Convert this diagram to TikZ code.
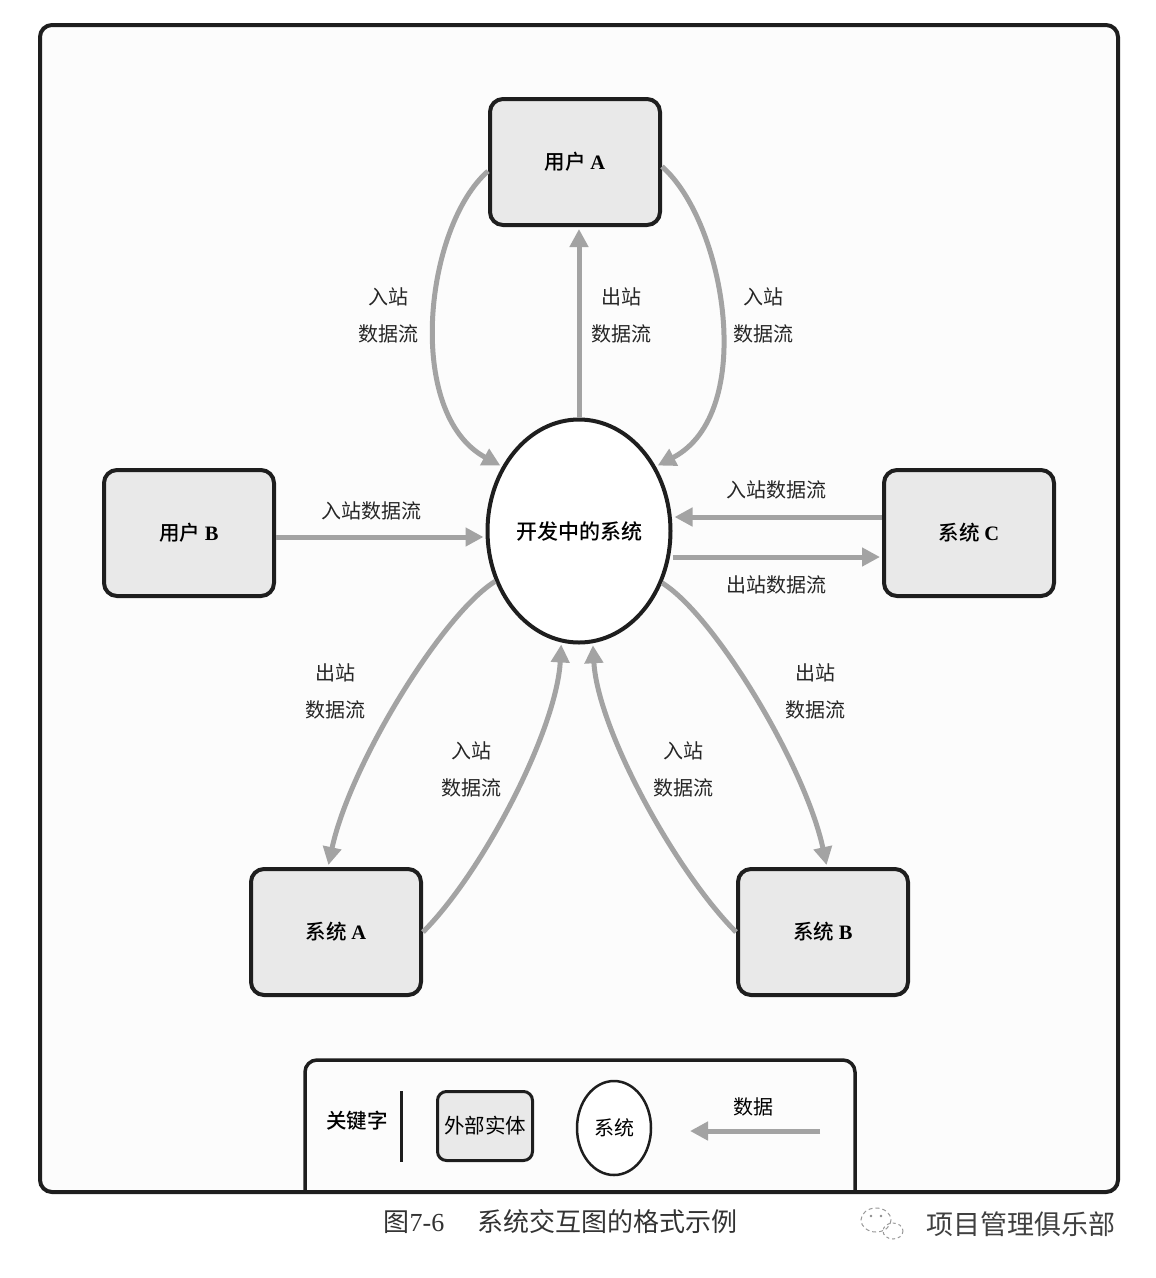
\documentclass[tikz,border=0pt]{standalone}
\usepackage{fontspec}
\newfontfamily\cjk{Noto Sans CJK SC}
\newfontfamily\cjkm{Noto Sans CJK SC Medium}
\newfontfamily\rmlat{Liberation Serif}
\usetikzlibrary{arrows.meta,shapes.geometric}
\definecolor{flowgray}{RGB}{163,163,163}
\definecolor{edgeblack}{RGB}{30,30,30}
\definecolor{boxfill}{RGB}{233,233,233}
\newcommand{\ltr}[1]{{\rmlat\bfseries #1}}
\begin{document}
\begin{tikzpicture}[x=1pt,y=-1pt,line width=0.6pt,
  every node/.style={font=\cjk\fontsize{20}{24}\selectfont,inner sep=0pt},
  entity/.style={draw=edgeblack,line width=4pt,fill=boxfill,rounded corners=13pt,
    minimum width=170pt,minimum height=126pt,font=\cjkm\fontsize{20.5}{24}\selectfont},
  flow/.style={draw=flowgray,line width=5pt,-{Triangle[length=18pt,width=18pt]},shorten >=2pt},
  lbl/.style={align=center,text=black!85,font=\cjk\fontsize{20}{37}\selectfont}]
  \useasboundingbox[fill=white] (0,0) rectangle (1156,1278);
  \draw[line width=4pt,draw=edgeblack,fill=black!1,rounded corners=12pt] (40,25) rectangle (1118,1192);

  \node[ellipse,draw=edgeblack,line width=4pt,fill=white,minimum width=183pt,minimum height=223pt,
    font=\cjkm\fontsize{21}{24}\selectfont] (ce) at (579,531) {开发中的系统};
  \node[entity] (ua) at (575,162) {用户 \ltr{A}};
  \node[entity] (ub) at (189,533) {用户 \ltr{B}};
  \node[entity] (sc) at (969,533) {系统 \ltr{C}};
  \node[entity] (sa) at (336,932) {系统 \ltr{A}};
  \node[entity] (sb) at (823,932) {系统 \ltr{B}};

  \draw[flow] (ua.186) .. controls +(-63,55) and +(-98,-53) .. (ce.140);
  \draw[flow] (ce.north) -- (ce.north |- ua.south);
  \draw[flow] (ua.357) .. controls +(63,55) and +(102,-53) .. (ce.40);
  \draw[flow] ([yshift=-4pt]ub.east) -- ([yshift=-4pt]ub.east -| ce.west);
  \draw[flow] ([yshift=16pt]sc.west) -- ([yshift=16pt]sc.west -| ce.east);
  \draw[flow] ([yshift=-24pt]sc.west -| ce.east) -- ([yshift=-24pt]sc.west);
  \draw[flow] (ce.211) .. controls +(-52,32) and +(22,-103) .. ([xshift=-8pt]sa.north);
  \draw[flow] (sa.east) .. controls +(60,-60) and +(-5,88) .. (ce.261);
  \draw[flow] (sb.west) .. controls +(-60,-60) and +(5,87) .. (ce.277);
  \draw[flow] (ce.328) .. controls +(52,32) and +(-22,-102) .. ([xshift=4pt]sb.north);

  \node[lbl] (l1) at (388,315) {入站\\数据流};
  \node[lbl] (l2) at (621,315) {出站\\数据流};
  \node[lbl] (l3) at (763,315) {入站\\数据流};
  \node[lbl] (l4) at (371,511) {入站数据流};
  \node[lbl] (l5) at (776,490) {入站数据流};
  \node[lbl] (l6) at (776,585) {出站数据流};
  \node[lbl] (l7) at (335,691) {出站\\数据流};
  \node[lbl] (l8) at (471,769) {入站\\数据流};
  \node[lbl] (l9) at (683,769) {入站\\数据流};
  \node[lbl] (l10) at (815,691) {出站\\数据流};

  \draw[line width=3.5pt,draw=edgeblack,rounded corners=12pt] (305,1192) -- (305,1060) -- (855,1060) -- (855,1192);
  \node[font=\cjkm\fontsize{20.5}{24}\selectfont] (key) at (357,1121) {关键字};
  \coordinate (kt) at (401,1091);
  \coordinate (kd) at (401,1162);
  \draw[line width=3pt,draw=edgeblack] (kt) -- (kd);
  \node[entity,line width=3pt,rounded corners=9pt,minimum width=95pt,minimum height=69pt,
    font=\cjk\fontsize{20.5}{24}\selectfont] (kent) at (485,1126) {外部实体};
  \node[ellipse,draw=edgeblack,line width=2.5pt,fill=white,minimum width=74pt,minimum height=94pt] (ksys) at (614,1128) {系统};
  \coordinate (ka) at (820,1131);
  \coordinate (kb) at (690,1131);
  \draw[flow,shorten >=0pt] (ka) -- (kb);
  \node (kdat) at (753,1107) {数据};

  \node[font=\cjk\fontsize{26}{30}\selectfont,text=black!80] (fig) at (414,1222) {图{\rmlat 7-6}};
  \node[font=\cjk\fontsize{26}{30}\selectfont,text=black!80] (cap) at (607,1222) {系统交互图的格式示例};
  \node[font=\cjk\fontsize{27}{30}\selectfont,text=black!75] (wm) at (1021,1224) {项目管理俱乐部};
  \draw[black!40,line width=1pt,dash pattern=on 4pt off 3pt] (876,1220) ellipse (15 and 12);
  \draw[black!40,line width=1pt,dash pattern=on 3pt off 3pt] (893,1231) ellipse (10 and 8);
  \fill[black!45] (871,1216) circle (1.3) (881,1216) circle (1.3);
\end{tikzpicture}
\end{document}
